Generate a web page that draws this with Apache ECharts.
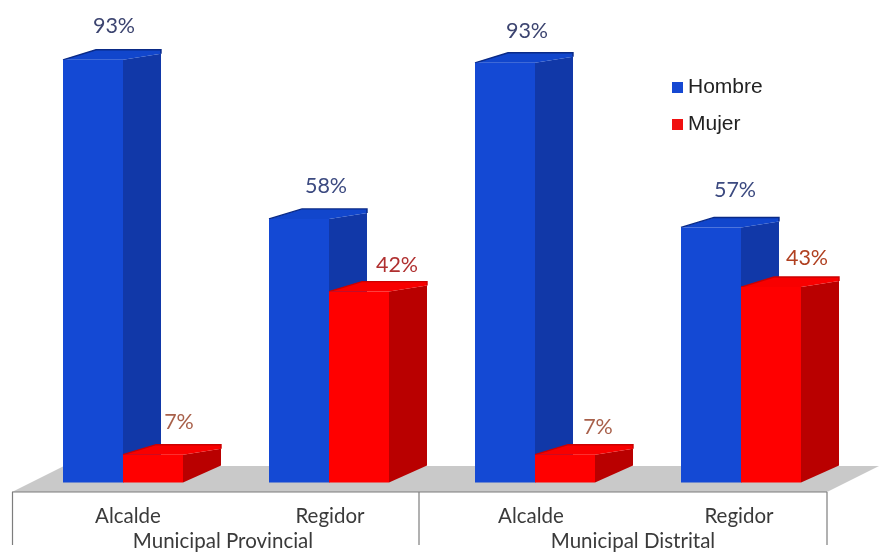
<!DOCTYPE html>
<html>
<head>
<meta charset="utf-8">
<style>html,body{margin:0;padding:0;background:#fff}#c{width:879px;height:552px}</style>
<script src="https://cdn.jsdelivr.net/npm/echarts@6/dist/echarts.min.js"></script>
</head>
<body>
<div id="c"></div>
<script>
const roles = ['Alcalde', 'Regidor', 'Alcalde', 'Regidor'];
const groups = ['Municipal Provincial', 'Municipal Distrital'];
const hombre = [93, 58, 93, 57];
const mujer = [7, 42, 7, 43];

const BAR_W = 60, DX = 38, BACK_L = 33, DY_TOP = 10, DY_SIDE = 6, DY_BOT = 17;

function bar3d(side, colors, look) {
  return function (params, api) {
    const i = api.value(0), v = api.value(1);
    const top = api.coord([i, v]), base = api.coord([i, 0]);
    const l = side < 0 ? top[0] - BAR_W : top[0];
    const r = l + BAR_W, t = top[1] + look.drop[i], b = base[1];
    return {
      type: 'group',
      children: [
        { type: 'polygon', shape: { points: [[r, t], [r + DX, t - DY_SIDE], [r + DX, b - DY_BOT], [r, b]] },
          style: { fill: colors.side } },
        { type: 'polygon', shape: { points: [[l, t], [l + BACK_L, t - DY_TOP], [r + DX, t - DY_TOP], [r + DX, t - DY_SIDE], [r, t]] },
          style: { fill: colors.top } },
        { type: 'polyline', shape: { points: [[l, t], [l + BACK_L, t - DY_TOP], [r + DX, t - DY_TOP], [r + DX, t - DY_SIDE]] },
          style: { fill: 'none', stroke: colors.edge, lineWidth: 1.4 } },
        { type: 'rect', shape: { x: l, y: t, width: BAR_W, height: b - t },
          style: { fill: colors.front } },
        { type: 'text', x: (l + r) / 2 + look.labelDx[i], y: t + look.labelDy[i],
          style: { text: v + '%', fill: look.labelColor[i], font: '21.5px Lato', align: 'center', verticalAlign: 'middle' } }
      ]
    };
  };
}

const frameColor = '#7d7d7d';
const frame = (x1, y1, x2, y2) => ({
  type: 'line', z: -1, shape: { x1, y1, x2, y2 }, style: { stroke: frameColor, lineWidth: 1.2 }
});
const txt = (size, padding) => ({ fontFamily: 'Lato', fontSize: size, color: '#3a3a3a', lineHeight: 20, padding });

const chart = echarts.init(document.getElementById('c'));
chart.setOption({
  animation: false,
  backgroundColor: '#fff',
  grid: { left: 20, width: 824, top: 28, height: 455 },
  xAxis: [
    { type: 'category', data: roles, position: 'bottom',
      axisLine: { show: false }, axisTick: { show: false },
      axisLabel: { margin: 24, interval: 0, formatter: (v, i) => `{r${i}|${v}}`,
        rich: { r0: txt(20.5, [0, 0, 0, 10]), r1: txt(20.5, [0, 0, 0, 2]), r2: txt(20.5, [0, 8, 0, 0]), r3: txt(20.5, [0, 4, 0, 0]) } } },
    { type: 'category', data: groups, position: 'bottom',
      axisLine: { show: false }, axisTick: { show: false },
      axisLabel: { margin: 49, interval: 0, formatter: (v, i) => `{g${i}|${v}}`,
        rich: { g0: txt(20.5, [0, 6, 0, 0]), g1: txt(20.5, [0, 10, 0, 0]) } } }
  ],
  yAxis: { type: 'value', min: 0, max: 100, show: false },
  legend: {
    orient: 'vertical', left: 667, top: 72, icon: 'rect',
    itemWidth: 11, itemHeight: 11, itemGap: 16, itemStyle: { borderWidth: 0 },
    textStyle: { fontFamily: 'Liberation Sans', fontSize: 21, color: '#222', lineHeight: 20 },
    data: ['Hombre', 'Mujer']
  },
  graphic: { elements: [
    { type: 'polygon', z: -2, shape: { points: [[12, 492], [64, 466], [879, 466], [827, 492]] },
      style: { fill: '#c9c9c9' } },
    frame(12, 492, 827, 492), frame(12.5, 492, 12.5, 545),
    frame(419, 492, 419, 545), frame(827, 492, 827, 545)
  ] },
  series: [
    { name: 'Hombre', type: 'custom', coordinateSystem: 'cartesian2d',
      itemStyle: { color: '#1548d2' },
      encode: { x: 0, y: 1 },
      data: hombre.map((v, i) => [i, v]),
      renderItem: bar3d(-1, { front: '#1449d4', side: '#1138a8', top: '#1146cc', edge: '#0a2a86' },
        { drop: [0, 0, 3, 4], labelDx: [21, 27, 22, 24], labelDy: [-34, -33, -32, -37],
          labelColor: ['#3c4470', '#3c4a80', '#3c4470', '#3c4a80'] }) },
    { name: 'Mujer', type: 'custom', coordinateSystem: 'cartesian2d',
      itemStyle: { color: '#f01010' },
      encode: { x: 0, y: 1 },
      data: mujer.map((v, i) => [i, v]),
      renderItem: bar3d(1, { front: '#ff0000', side: '#b90000', top: '#f80000', edge: '#cc0000' },
        { drop: [4, 0, 4, 0], labelDx: [26, 38, 33, 36], labelDy: [-33, -27, -28, -29],
          labelColor: ['#a8604a', '#b03030', '#a8604a', '#b04020'] }) }
  ]
});
</script>
</body>
</html>
